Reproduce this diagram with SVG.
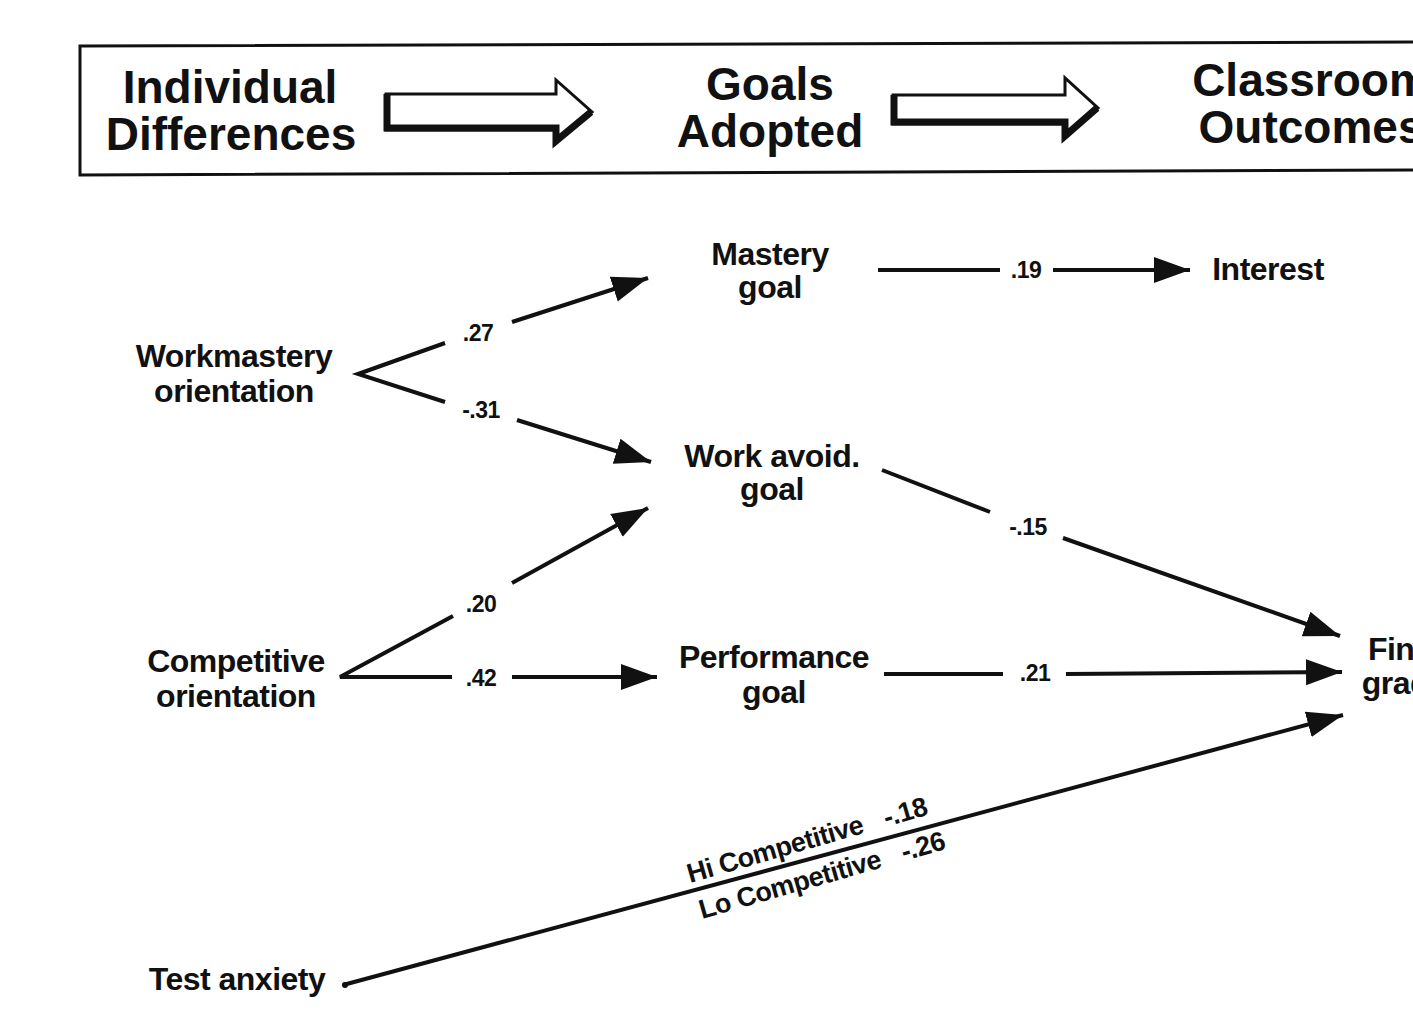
<svg xmlns="http://www.w3.org/2000/svg" width="1413" height="1010" viewBox="0 0 1413 1010">
<style>
text{font-family:"Liberation Sans",Arial,sans-serif;font-weight:bold;fill:#111;text-anchor:middle}
.hd{font-size:46px}
.nd{font-size:32px;letter-spacing:-0.5px}
.lb{font-size:23px;letter-spacing:-0.5px}
.rot{font-size:27px;text-anchor:start;letter-spacing:-0.5px}
.ln{stroke:#111;stroke-width:4;fill:none}
.ar{stroke:#111;stroke-width:4;fill:none;marker-end:url(#ah)}
</style>
<defs>
<marker id="ah" markerUnits="userSpaceOnUse" markerWidth="38" markerHeight="28" refX="36" refY="14" orient="auto">
<path d="M0,1 L36,14 L0,27 Z" fill="#111"/>
</marker>
</defs>
<rect width="1413" height="1010" fill="#fff"/>
<g id="header">
<path d="M80,46 L1420,42 L1420,170 L80,175 Z" fill="none" stroke="#111" stroke-width="3"/>
<text class="hd" x="230" y="103">Individual</text>
<text class="hd" x="231" y="150">Differences</text>
<text class="hd" x="770" y="100">Goals</text>
<text class="hd" x="770" y="147">Adopted</text>
<text class="hd" x="1311" y="96">Classroom</text>
<text class="hd" x="1311" y="143">Outcomes</text>
<path d="M386,94 L556,94 L556,80 L592,112 L556,143 L556,130 L386,130 Z" fill="#fff" stroke="#111" stroke-width="3"/>
<path d="M387,94 L387,128 L556,128 L556,141 L591,112" fill="none" stroke="#111" stroke-width="7"/>
<path d="M893,95 L1065,95 L1065,78 L1098,108 L1065,138 L1065,124 L893,124 Z" fill="#fff" stroke="#111" stroke-width="3"/>
<path d="M894,95 L894,122 L1065,122 L1065,136 L1097,108" fill="none" stroke="#111" stroke-width="7"/>
</g>
<g id="workmastery"><text class="nd" x="234" y="367">Workmastery</text><text class="nd" x="234" y="402">orientation</text></g>
<g id="competitive"><text class="nd" x="236" y="672">Competitive</text><text class="nd" x="236" y="707">orientation</text></g>
<g id="testanxiety"><text class="nd" x="237" y="990">Test anxiety</text></g>
<g id="mastery"><text class="nd" x="770" y="265">Mastery</text><text class="nd" x="770" y="298">goal</text></g>
<g id="workavoid"><text class="nd" x="772" y="467">Work avoid.</text><text class="nd" x="772" y="500">goal</text></g>
<g id="performance"><text class="nd" x="774" y="668">Performance</text><text class="nd" x="774" y="703">goal</text></g>
<g id="interest"><text class="nd" x="1268" y="280">Interest</text></g>
<g id="finalgrade"><text class="nd" x="1404" y="660">Final</text><text class="nd" x="1404" y="694">grade</text></g>
<g id="connectors">
<path class="ln" d="M445,343 L358,374 L445,402"/>
<path class="ar" d="M512,322 L648,278"/>
<text class="lb" x="478" y="341">.27</text>
<path class="ar" d="M517,420 L651,462"/>
<text class="lb" x="481" y="418">-.31</text>
<path class="ln" d="M453,616 L340,677 L452,677"/>
<path class="ar" d="M512,583 L648,508"/>
<text class="lb" x="481" y="612">.20</text>
<path class="ar" d="M512,677 L657,677"/>
<text class="lb" x="481" y="686">.42</text>
<path class="ln" d="M878,270 L1000,270"/>
<path class="ar" d="M1053,270 L1190,270"/>
<text class="lb" x="1026" y="278">.19</text>
<path class="ln" d="M882,470 L990,512"/>
<path class="ar" d="M1063,538 L1340,636"/>
<text class="lb" x="1028" y="535">-.15</text>
<path class="ln" d="M884,674 L1003,674"/>
<path class="ar" d="M1066,674 L1342,672"/>
<text class="lb" x="1035" y="681">.21</text>
<path class="ar" d="M343,985 L1343,715"/>
<circle cx="345" cy="985" r="3" fill="#111"/>
<text class="rot" transform="translate(690,883) rotate(-16)">Hi Competitive<tspan dx="22">-.18</tspan></text>
<text class="rot" transform="translate(702,919) rotate(-16)">Lo Competitive<tspan dx="22">-.26</tspan></text>
</g>
</svg>
